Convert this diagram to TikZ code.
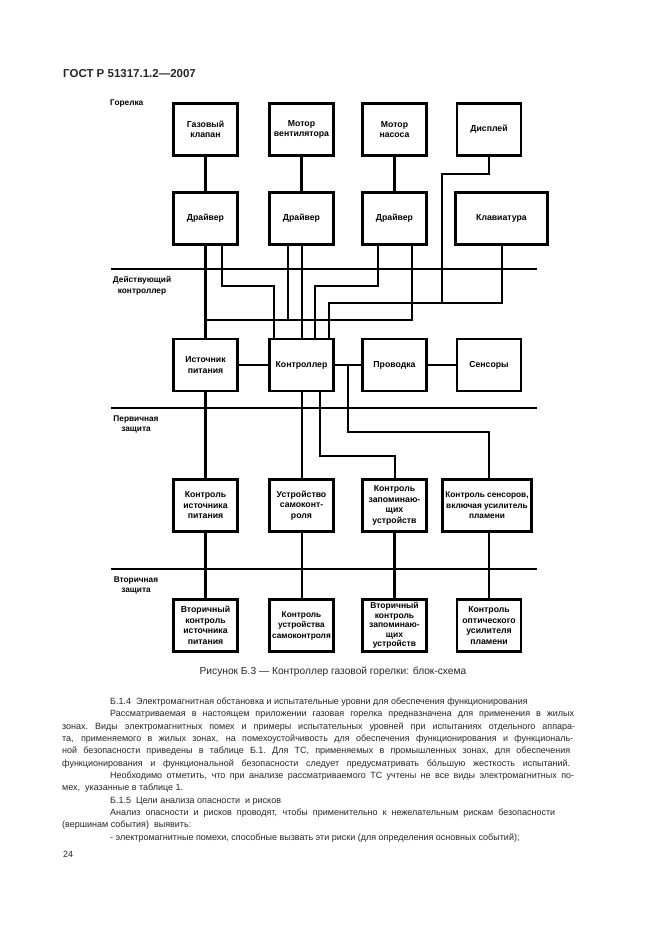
\documentclass[tikz,border=0pt]{standalone}
\usepackage{fontspec}
\setmainfont{Liberation Sans}
\newcommand\dlabel{\bfseries\fontsize{8.7}{10.5}\selectfont}
\newcommand\bodyf{\fontsize{9}{12}\selectfont}
\begin{document}
\begin{tikzpicture}[x=1pt,y=-1pt,
  box/.style={draw, line width=2.6pt, minimum width=64pt, minimum height=52pt, inner sep=1pt, align=center, font=\dlabel},
  wire/.style={line width=2.6pt},
  zone/.style={align=center, font=\bfseries\fontsize{8.3}{10.5}\selectfont, inner sep=0pt},
  txt/.style={anchor=base west, inner sep=0pt, font=\bodyf, text=black!85}]
\path[use as bounding box, fill=white] (0,0) rectangle (662,936);

% header
\node[anchor=base west, inner sep=0pt, font=\bfseries\fontsize{11.5}{13}\selectfont, text=black!85] (hdr) at (63,78) {ГОСТ Р 51317.1.2—2007};

% zone labels
\node[anchor=west, inner sep=0pt, font=\bfseries\fontsize{8.3}{10.5}\selectfont] (zg) at (110,104) {Горелка};
\node[zone] (zd) at (142,286) {Действующий\\контроллер};
\node[zone] (zp) at (136,424.5) {Первичная\\защита};
\node[zone] (zv) at (136,585.5) {Вторичная\\защита};

% row 1
\node[box] (gv) at (205.5,129.5) {Газовый\\клапан};
\node[box] (mv) at (301.5,129.5) {Мотор\\вентилятора};
\node[box] (mn) at (394.5,129.5) {Мотор\\насоса};
\node[box] (disp) at (489,129.5) {Дисплей};
% row 2
\node[box] (dr1) at (205.5,218.5) {Драйвер};
\node[box] (dr2) at (301.5,218.5) {Драйвер};
\node[box] (dr3) at (394.5,218.5) {Драйвер};
\node[box, minimum width=92pt] (kl) at (501.5,218.5) {Клавиатура};
% row 3
\node[box] (ist) at (205.5,365) {Источник\\питания};
\node[box] (ctrl) at (301.5,365) {Контроллер};
\node[box] (prov) at (394.5,365) {Проводка};
\node[box] (sens) at (489,365) {Сенсоры};
% row 4
\node[box] (kip) at (205.5,505.5) {Контроль\\источника\\питания};
\node[box] (usk) at (301.5,505.5) {Устройство\\самоконт-\\роля};
\node[box] (kzu) at (394.5,505.5) {Контроль\\запоминаю-\\щих\\устройств};
\node[box, minimum width=89pt, font=\bfseries\fontsize{8.3}{10.5}\selectfont] (ks) at (487,505.5) {Контроль сенсоров,\\включая усилитель\\пламени};
% row 5
\node[box] (vkip) at (205.5,625.5) {Вторичный\\контроль\\источника\\питания};
\node[box, font=\bfseries\fontsize{8.3}{10.5}\selectfont] (kusk) at (301.5,625.5) {Контроль\\устройства\\самоконтроля};
\node[box, font=\bfseries\fontsize{8.5}{9.5}\selectfont] (vkzu) at (394.5,625.5) {Вторичный\\контроль\\запоминаю-\\щих\\устройств};
\node[box] (kou) at (489,625.5) {Контроль\\оптического\\усилителя\\пламени};

% buses
\coordinate (b1w) at (111,269); \coordinate (b1e) at (537,269);
\coordinate (b2w) at (111,408); \coordinate (b2e) at (537,408);
\coordinate (b3w) at (111,569); \coordinate (b3e) at (537,569);
\draw[wire] (b1w) -- (b1e);
\draw[wire] (b2w) -- (b2e);
\draw[wire] (b3w) -- (b3e);

% top connections
\draw[wire] (gv) -- (dr1);
\draw[wire] (mv) -- (dr2);
\draw[wire] (mn) -- (dr3);
\draw[wire] (disp.south) |- (442,174) -- (442,303);
\draw[wire] (kl.south -| 502,0) |- (329,303) -- (ctrl.north -| 329,0);

% drivers to controller area
\draw[wire] (dr1) -- (ist);
\draw[wire] (dr1.south -| 222,0) |- (274,286) -- (ctrl.north -| 274,0);
\draw[wire] (dr2.south -| 288,0) -- (288,320);
\draw[wire] (dr2.south -| 302,0) -- (ctrl.north -| 302,0);
\draw[wire] (dr3.south -| 378,0) |- (315,286) -- (ctrl.north -| 315,0);
\draw[wire] (dr3.south -| 412,0) |- (dr1.south |- 0,320);

% middle row
\draw[wire] (ist) -- (ctrl);
\draw[wire] (ctrl) -- (prov);
\draw[wire] (prov) -- (sens);
\draw[wire] (ctrl.east -| 348,0) |- (489,432) -- (ks.north -| 489,0);
\draw[wire] (ctrl.south -| 302,0) -- (usk.north -| 302,0);
\draw[wire] (ctrl.south -| 320,0) |- (395,456) -- (kzu.north -| 395,0);
\draw[wire] (ist) -- (kip);

% lower
\draw[wire] (kip) -- (vkip);
\draw[wire] (usk.south -| 302,0) -- (kusk.north -| 302,0);
\draw[wire] (kzu) -- (vkzu);
\draw[wire] (ks.south -| 489,0) -- (kou.north);

% caption
\node[anchor=base, inner sep=0pt, font=\fontsize{10.2}{12}\selectfont, text=black!85] (cap) at (333,674) {Рисунок Б.3 — Контроллер газовой горелки: блок-схема};

% body text
\node[txt] (t1) at (110,704.3) {Б.1.4\ \ Электромагнитная обстановка и испытательные уровни для обеспечения функционирования};
\node[txt] (t2) at (110,716.7) {\makebox[464pt][s]{Рассматриваемая в настоящем приложении газовая горелка предназначена для применения в жилых}};
\node[txt] (t3) at (62,729.0) {\makebox[513pt][s]{\frenchspacing зонах. Виды электромагнитных помех и примеры испытательных уровней при испытаниях отдельного аппара-}};
\node[txt] (t4) at (62,741.4) {\makebox[511pt][s]{та, применяемого в жилых зонах, на помехоустойчивость для обеспечения функционирования и функциональ-}};
\node[txt] (t5) at (62,753.7) {\makebox[508pt][s]{\frenchspacing ной безопасности приведены в таблице Б.1. Для ТС, применяемых в промышленных зонах, для обеспечения}};
\node[txt] (t6) at (62,766.1) {\makebox[508pt][s]{функционирования и функциональной безопасности следует предусматривать бóльшую жесткость испытаний.}};
\node[txt] (t7) at (110,778.5) {\makebox[464pt][s]{Необходимо отметить, что при анализе рассматриваемого ТС учтены не все виды электромагнитных по-}};
\node[txt] (t8) at (62,790.8) {мех,\ \ указанные в таблице 1.};
\node[txt] (t9) at (110,803.2) {Б.1.5\ \ Цели анализа опасности\ \ и рисков};
\node[txt] (t10) at (110,815.5) {\makebox[445pt][s]{Анализ опасности и рисков проводят, чтобы применительно к нежелательным рискам безопасности}};
\node[txt] (t11) at (62,827.9) {(вершинам события)\ \ выявить:};
\node[txt] (t12) at (110,840.3) {- электромагнитные помехи, способные вызвать эти риски (для определения основных событий);};

\node[txt] (pg) at (63,857.5) {24};
\end{tikzpicture}
\end{document}
